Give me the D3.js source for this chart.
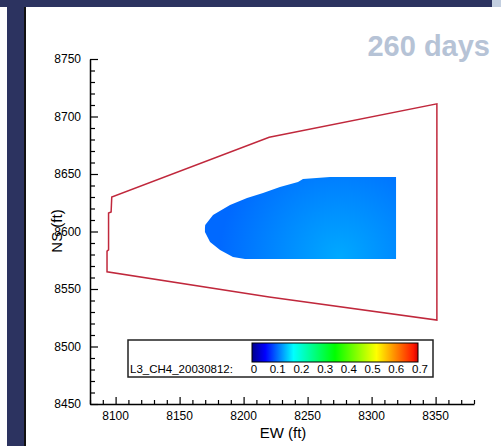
<!DOCTYPE html>
<html>
<head>
<meta charset="utf-8">
<script src="https://cdn.jsdelivr.net/npm/d3@7"></script>
<style>
  html, body { margin: 0; padding: 0; background: #ffffff; }
  svg { display: block; }
  text { font-family: "Liberation Sans", Arial, sans-serif; }
</style>
</head>
<body>
<svg id="chart" width="501" height="446"></svg>
<script>
// Axis extents and tick values (ft)
const xDomain = [8080, 8380];
const yDomain = [8450, 8750];
const xTickLabels = [8100, 8150, 8200, 8250, 8300, 8350];
const yTickLabels = [8450, 8500, 8550, 8600, 8650, 8700, 8750];

// Reservoir boundary (EW, NS)
const boundaryEW = [8097, 8096.5, 8094.5, 8094.5, 8093.3, 8093.3, 8220, 8351, 8351, 8220];
const boundaryNS = [8630, 8617, 8616, 8584, 8583, 8565, 8543, 8523, 8711, 8682];

// CH4 saturation plume outline (EW, NS)
const plumeEW = [8169.8, 8170, 8176.1, 8189.4, 8202.7, 8215.2, 8228.4, 8242.5, 8246.4, 8267.5, 8300.3, 8319.1,
                 8319.1, 8201.1, 8191.7, 8181.6, 8173.8, 8169.8];
const plumeNS = [8603.0, 8605.7, 8614.3, 8623.0, 8629.1, 8633.5, 8638.7, 8643.0, 8645.7, 8647.4, 8647.4, 8647.4,
                 8576.1, 8576.1, 8577.8, 8583.9, 8590.9, 8599.6];
// Plume values: rim and core
const plumeValues = [0.105, 0.135];
const plumeCore = [8275, 8578];

// Color legend
const legendTitle = "L3_CH4_20030812:";
const legendTicks = [0, 0.1, 0.2, 0.3, 0.4, 0.5, 0.6, 0.7];
const legendStops = [0, 0.056, 0.175, 0.35, 0.525, 0.68, 0.7];
const legendColors = ["#00008c", "#0000ff", "#00ffff", "#00ff00", "#ffff00", "#ff1a00", "#d00000"];

const title = "260 days";

const svg = d3.select("#chart");

// Frame bands
svg.append("rect").attr("x", 0).attr("y", 0).attr("width", 492).attr("height", 7).attr("fill", "#2c3360");
svg.append("rect").attr("x", 492).attr("y", 0).attr("width", 9).attr("height", 7).attr("fill", "#c3cfe0");
svg.append("rect").attr("x", 7).attr("y", 7).attr("width", 17).attr("height", 439).attr("fill", "#2c3360");
svg.append("rect").attr("x", 24).attr("y", 7).attr("width", 2).attr("height", 439).attr("fill", "#111111");

const x = d3.scaleLinear().domain(xDomain).range([90, 474]);
const y = d3.scaleLinear().domain(yDomain).range([404, 59]);
const color = d3.scaleLinear().domain(legendStops).range(legendColors).clamp(true);

// Plume fill
const defs = svg.append("defs");
const grad = defs.append("radialGradient")
  .attr("id", "plumeGrad")
  .attr("gradientUnits", "userSpaceOnUse")
  .attr("cx", x(plumeCore[0])).attr("cy", y(plumeCore[1]))
  .attr("r", 120);
grad.append("stop").attr("offset", "0%").attr("stop-color", color(plumeValues[1]));
grad.append("stop").attr("offset", "100%").attr("stop-color", color(plumeValues[0]));

const plumePts = plumeEW.map((e, i) => [x(e), y(plumeNS[i])]);
svg.append("path")
  .attr("d", d3.line()(plumePts) + "Z")
  .attr("fill", "url(#plumeGrad)");

// Boundary
const boundaryPts = boundaryEW.map((e, i) => [x(e), y(boundaryNS[i])]);
svg.append("path")
  .attr("d", d3.line()(boundaryPts) + "Z")
  .attr("fill", "none")
  .attr("stroke", "#c0283c")
  .attr("stroke-width", 1.5);

// Axes
const xAxis = d3.axisBottom(x).tickValues(d3.range(8080, 8381, 10)).tickSizeInner(-4).tickSizeOuter(0).tickFormat("");
const yAxis = d3.axisLeft(y).tickValues(d3.range(8450, 8751, 10)).tickSizeInner(-5).tickSizeOuter(0).tickFormat("");

const gx = svg.append("g").attr("transform", "translate(0,404)").call(xAxis);
const gy = svg.append("g").attr("transform", "translate(90,0)").call(yAxis);
[gx, gy].forEach(g => {
  g.select(".domain").attr("stroke", "#000").attr("stroke-width", 1.5);
  g.selectAll(".tick line").attr("stroke", "#000").attr("stroke-width", 1.2);
});
gx.selectAll(".tick line").filter(d => d % 50 === 0).attr("y2", -7);
gy.selectAll(".tick line").filter(d => d % 50 === 0).attr("x2", 8);

svg.append("g").selectAll("text").data(xTickLabels).join("text")
  .attr("x", d => x(d)).attr("y", 420)
  .attr("text-anchor", "middle").attr("font-size", 12).attr("fill", "#000")
  .text(d => d);
svg.append("g").selectAll("text").data(yTickLabels).join("text")
  .attr("x", 81).attr("y", d => y(d) + 4)
  .attr("text-anchor", "end").attr("font-size", 12).attr("fill", "#000")
  .text(d => d);

svg.append("text").attr("x", 283).attr("y", 438).attr("text-anchor", "middle")
  .attr("font-size", 15).attr("fill", "#000").text("EW (ft)");
svg.append("text").attr("transform", "translate(62,231) rotate(-90)").attr("text-anchor", "middle")
  .attr("font-size", 15).attr("fill", "#000").text("NS (ft)");

// Title
svg.append("text").attr("x", 490).attr("y", 56).attr("text-anchor", "end")
  .attr("font-size", 29).attr("font-weight", "bold").attr("fill", "#b6c3d6").text(title);

// Legend
svg.append("rect").attr("x", 128).attr("y", 340).attr("width", 305).attr("height", 37)
  .attr("fill", "#fff").attr("stroke", "#222").attr("stroke-width", 1.5);
const cb = d3.scaleLinear().domain([0, 0.7]).range([252, 418]);
const lg = defs.append("linearGradient").attr("id", "cbGrad").attr("x1", "0%").attr("x2", "100%");
legendStops.forEach((s, i) => lg.append("stop").attr("offset", (s / 0.7 * 100) + "%").attr("stop-color", legendColors[i]));
svg.append("rect").attr("x", cb(0)).attr("y", 343).attr("width", cb(0.7) - cb(0)).attr("height", 19)
  .attr("fill", "url(#cbGrad)").attr("stroke", "#000").attr("stroke-width", 1);
svg.append("text").attr("x", 130).attr("y", 373).attr("font-size", 11.5).attr("fill", "#000").text(legendTitle);
svg.append("g").selectAll("text").data(legendTicks).join("text")
  .attr("x", d => cb(d) + 2).attr("y", 373).attr("text-anchor", "middle")
  .attr("font-size", 11.5).attr("fill", "#000")
  .text(d => d === 0 ? "0" : d3.format(".1f")(d));
</script>
</body>
</html>
